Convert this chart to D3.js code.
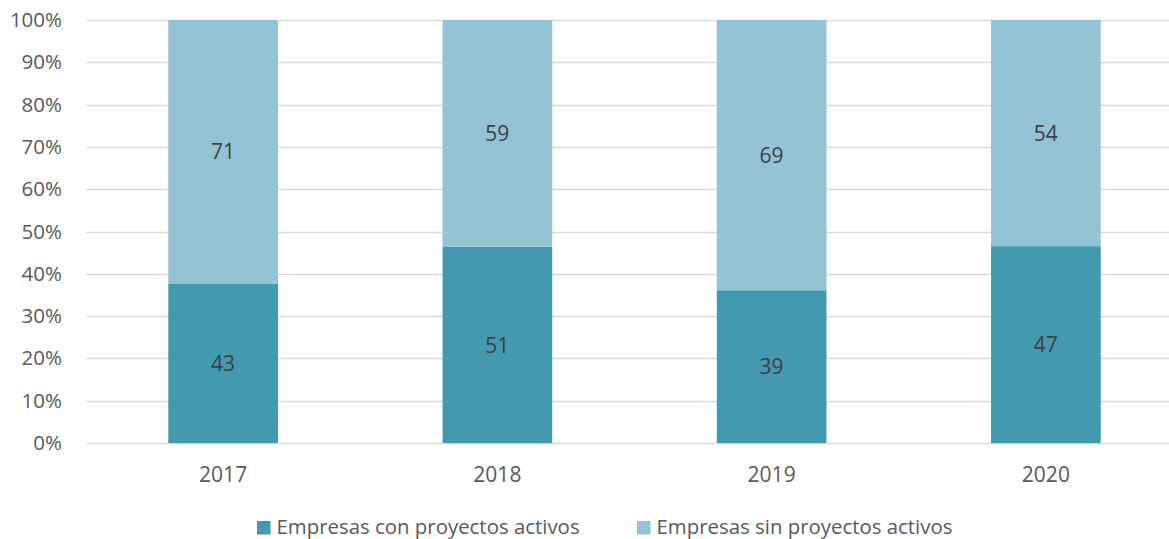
<!DOCTYPE html>
<html>
<head>
<meta charset="utf-8">
<script src="https://cdn.jsdelivr.net/npm/d3@7"></script>
<style>
  html, body { margin: 0; padding: 0; background: #fff; }
  svg { display: block; font-family: "Open Sans", sans-serif; }
</style>
</head>
<body>
<svg id="chart" width="1169" height="539"></svg>
<script>
const years = ["2017", "2018", "2019", "2020"];
const conProyectos = [43, 51, 39, 47];
const sinProyectos = [71, 59, 69, 54];
const seriesNames = ["Empresas con proyectos activos", "Empresas sin proyectos activos"];
const seriesColors = ["#4399AF", "#93C3D4"];
const tickValues = [0, 0.1, 0.2, 0.3, 0.4, 0.5, 0.6, 0.7, 0.8, 0.9, 1];

const svg = d3.select("#chart");
const W = 1169, H = 539;
const plotLeft = 86, plotRight = 1183, plotTop = 20, plotBottom = 443;

const rows = years.map((y, i) => ({ year: y, con: conProyectos[i], sin: sinProyectos[i] }));
const layers = d3.stack().keys(["con", "sin"]).offset(d3.stackOffsetExpand)(rows);

const x = d3.scaleBand().domain(years).range([plotLeft, plotRight]).paddingInner(0.6).paddingOuter(0.3);
const y = d3.scaleLinear().domain([0, 1]).range([plotBottom, plotTop]);

// horizontal gridlines
svg.append("g").selectAll("line").data(tickValues).join("line")
  .attr("x1", plotLeft).attr("x2", W)
  .attr("y1", d => Math.round(y(d)) + 0.5).attr("y2", d => Math.round(y(d)) + 0.5)
  .attr("stroke", "#d9d9d9").attr("stroke-width", 1.3);

// percentage labels on the left
const gy = svg.append("g").attr("transform", `translate(${plotLeft},0)`)
  .call(d3.axisLeft(y).tickValues(tickValues).tickFormat(d3.format(".0%")).tickSize(0).tickPadding(24));
gy.select(".domain").remove();
gy.selectAll("text").attr("font-size", 20.5).attr("fill", "#595959").attr("font-family", "'Open Sans', sans-serif");

// stacked bars
const gl = svg.append("g").selectAll("g").data(layers).join("g")
  .attr("fill", (d, i) => seriesColors[i]);
gl.selectAll("rect").data(d => d).join("rect")
  .attr("x", d => x(d.data.year))
  .attr("width", x.bandwidth())
  .attr("y", d => y(d[1]))
  .attr("height", d => y(d[0]) - y(d[1]));

// counts inside each segment
layers.forEach(layer => {
  svg.append("g").selectAll("text").data(layer).join("text")
    .attr("x", d => x(d.data.year) + x.bandwidth() / 2)
    .attr("y", d => (y(d[0]) + y(d[1])) / 2)
    .attr("dy", "0.36em")
    .attr("text-anchor", "middle")
    .attr("font-size", 21)
    .attr("fill", "#404040")
    .text(d => d.data[layer.key]);
});

// year labels
const gx = svg.append("g").attr("transform", `translate(0,${plotBottom})`)
  .call(d3.axisBottom(x).tickSize(0));
gx.select(".domain").remove();
gx.selectAll("text").attr("y", 39).attr("dy", 0)
  .attr("font-size", 21).attr("fill", "#595959").attr("font-family", "'Open Sans', sans-serif");

// legend
const legendX = [257, 637];
const lg = svg.append("g").selectAll("g").data(seriesNames).join("g")
  .attr("transform", (d, i) => `translate(${legendX[i]},521)`);
lg.append("rect").attr("width", 13.5).attr("height", 13.5).attr("fill", (d, i) => seriesColors[i]);
lg.append("text").attr("x", 19.5).attr("y", 12.8)
  .attr("font-size", 20.4).attr("fill", "#595959").text(d => d);
</script>
</body>
</html>
